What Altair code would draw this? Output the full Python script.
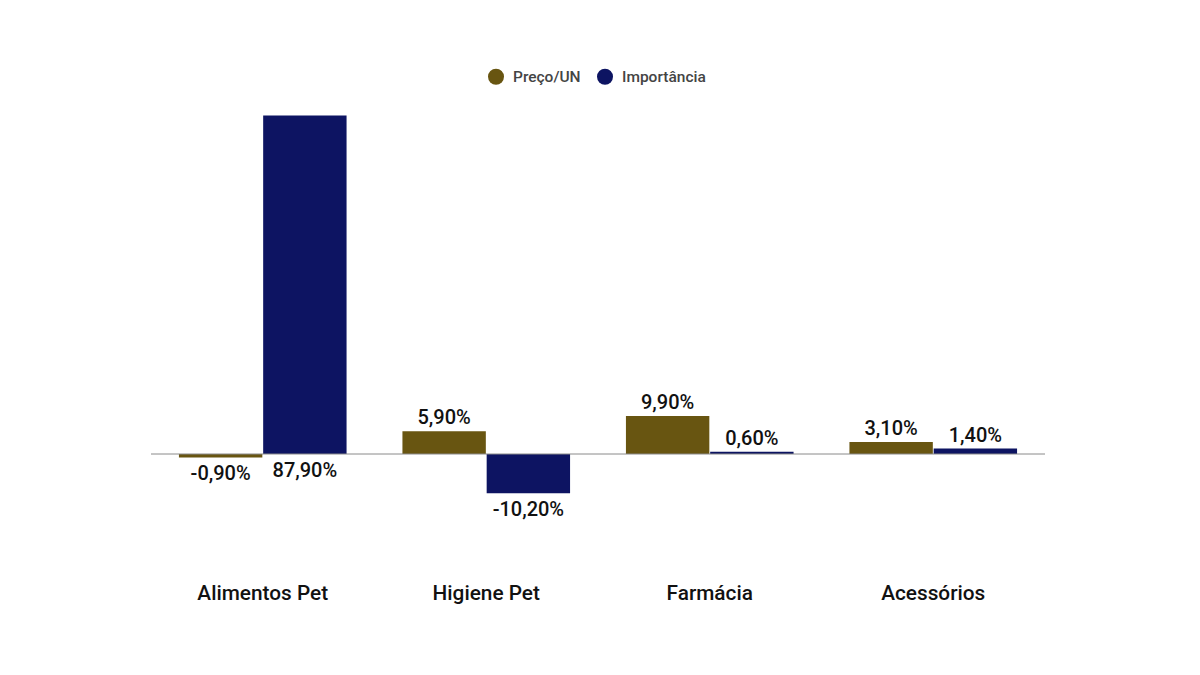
import altair as alt
import pandas as pd

categories = ["Alimentos Pet", "Higiene Pet", "Farmácia", "Acessórios"]
series = ["Preço/UN", "Importância"]
preco = [-0.9, 5.9, 9.9, 3.1]
importancia = [87.9, -10.2, 0.6, 1.4]
colors = ["#685511", "#0d1462"]

rows = []
for c, p, i in zip(categories, preco, importancia):
    rows.append({"cat": c, "serie": series[0], "value": p})
    rows.append({"cat": c, "serie": series[1], "value": i})
df = pd.DataFrame(rows)
df["label"] = df["value"].map(lambda v: f"{v:.2f}".replace(".", ",") + "%")
# labels that have no room above the plot top are placed below the baseline
df["above"] = (df["value"] >= 0) & (df["value"] < 80)
df["anchor"] = df.apply(lambda r: r["value"] if (r["value"] < 0 or r["above"]) else 0.0, axis=1)

xscale = alt.Scale(domain=categories, paddingInner=0.25, paddingOuter=0.125)
x = alt.X("cat:N", scale=xscale, sort=categories,
          axis=alt.Axis(title=None, labelAngle=0, domain=False, ticks=False, grid=False,
                        labelFontSize=20.8, labelFont="Roboto", labelFontWeight=500,
                        labelColor="#111111", labelPadding=52))
xo = alt.XOffset("serie:N", sort=series, scale=alt.Scale(domain=series, paddingInner=0.01))
yscale = alt.Scale(domain=[-20, 90], nice=False, zero=False)

base = alt.Chart(df)

bars = base.mark_bar().encode(
    x=x,
    xOffset=xo,
    y=alt.Y("value:Q", scale=yscale, axis=None),
    y2=alt.datum(0),
    color=alt.Color("serie:N", sort=series,
                    scale=alt.Scale(domain=series, range=colors),
                    legend=alt.Legend(title=None, orient="none", direction="horizontal",
                                      legendX=337, legendY=-39,
                                      symbolType="circle", symbolSize=256,
                                      labelFont="Roboto", labelFontSize=15.5,
                                      labelFontWeight=500, labelOffset=9,
                                      labelColor="#444444", columnPadding=16,
                                      symbolStrokeWidth=0)),
)

zero = alt.Chart(pd.DataFrame({"z": [0]})).mark_rule(color="#8a8a8a", strokeWidth=1).encode(
    y=alt.Y("z:Q", scale=yscale)
)

txt_above = base.transform_filter("datum.above").mark_text(
    baseline="middle", dy=-13, fontSize=20, font="Roboto", fontWeight=500, color="#111111"
).encode(x=x, xOffset=xo, y=alt.Y("anchor:Q", scale=yscale), text="label:N")

txt_below = base.transform_filter("!datum.above").mark_text(
    baseline="middle", dy=16.5, fontSize=20, font="Roboto", fontWeight=500, color="#111111"
).encode(x=x, xOffset=xo, y=alt.Y("anchor:Q", scale=yscale), text="label:N")

chart = alt.layer(bars, zero, txt_above, txt_below).properties(
    width=894, height=423.5,
    background="white",
    autosize=alt.AutoSizeParams(type="none"),
    padding={"left": 143, "top": 99.5, "right": 140, "bottom": 120},
).configure_view(strokeWidth=0, stroke="transparent")

chart.save("out.html", embed_options={"renderer": "svg", "actions": False})
